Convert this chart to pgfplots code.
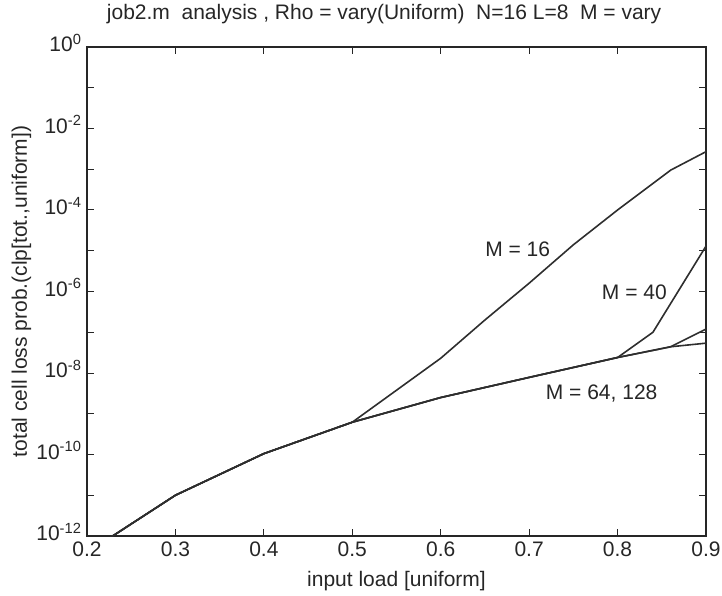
\documentclass[border=0pt]{standalone}
\usepackage{pgfplots}
\pgfplotsset{compat=1.18}
\usepackage{fontspec}
\setmainfont{Liberation Sans}
\definecolor{ln}{HTML}{2E2E2E}
\definecolor{tx}{HTML}{262626}
\begin{document}
\begin{tikzpicture}
\begin{axis}[
  at={(0pt,0pt)}, anchor=south west,
  scale only axis, width=619pt, height=489pt,
  xmin=0.2, xmax=0.9, ymode=log, ymin=1e-12, ymax=1,
  xtick={0.2,0.3,0.4,0.5,0.6,0.7,0.8,0.9},
  xticklabels={0.2,0.3,0.4,0.5,0.6,0.7,0.8,0.9},
  ytick={1e-12,1e-10,1e-8,1e-6,1e-4,1e-2,1},
  yticklabels={10\textsuperscript{-12},10\textsuperscript{-10},10\textsuperscript{-8},10\textsuperscript{-6},10\textsuperscript{-4},10\textsuperscript{-2},10\textsuperscript{0}},
  minor ytick={1e-11,1e-9,1e-7,1e-5,1e-3,1e-1},
  tick align=inside, major tick length=7pt, minor tick length=7pt,
  tick style={line width=1pt, black!85},
  axis line style={line width=1.3pt, black!85},
  ticklabel style={font=\fontsize{21}{24}\selectfont, text=tx},
  xticklabel style={yshift=-2pt},
  yticklabel style={xshift=-2pt, yshift=4pt},
  /pgf/number format/assume math mode=true,
  xlabel={input load [uniform]},
  ylabel={total cell loss prob.(clp[tot.,uniform])},
  xlabel style={at={(axis description cs:0.5,-0.092)}, anchor=center},
  ylabel style={at={(axis description cs:-0.106,0.5)}, anchor=center},
  label style={font=\fontsize{21}{24}\selectfont, text=tx},
  title={job2.m\ \ analysis , Rho = vary(Uniform)\ \ N=16 L=8\ \ M = vary},
  title style={at={(axis description cs:0.48,1.056)}, anchor=center, font=\fontsize{21}{24}\selectfont, text=tx},
  clip=true,
]
\addplot[ln, line width=1.6pt] coordinates {
 (0.2,3.9e-13) (0.3,1e-11) (0.4,1.05e-10) (0.5,6.2e-10) (0.6,2.5e-9)
 (0.7,7.8e-9) (0.8,2.4e-8) (0.86,4.4e-8) (0.9,5.4e-8)};
\addplot[ln, line width=1.6pt] coordinates {
 (0.2,3.9e-13) (0.3,1e-11) (0.4,1.05e-10) (0.5,6.2e-10) (0.6,2.5e-9)
 (0.7,7.8e-9) (0.8,2.4e-8) (0.86,4.4e-8) (0.9,1.2e-7)};
\addplot[ln, line width=1.6pt] coordinates {
 (0.2,3.9e-13) (0.3,1e-11) (0.4,1.05e-10) (0.5,6.2e-10) (0.6,2.5e-9)
 (0.7,7.8e-9) (0.8,2.4e-8) (0.84,1.0e-7) (0.9,1.3e-5)};
\addplot[ln, line width=1.6pt] coordinates {
 (0.2,3.9e-13) (0.3,1e-11) (0.4,1.05e-10) (0.5,6.2e-10) (0.6,2.3e-8)
 (0.65,2e-7) (0.7,1.6e-6) (0.75,1.4e-5) (0.8,1.0e-4) (0.86,9.5e-4) (0.9,2.7e-3)};
\node[font=\fontsize{21}{24}\selectfont, text=tx] at (axis cs:0.687,1.1e-5) {M = 16};
\node[font=\fontsize{21}{24}\selectfont, text=tx] at (axis cs:0.819,9.8e-7) {M = 40};
\node[font=\fontsize{21}{24}\selectfont, text=tx] at (axis cs:0.782,3.2e-9) {M = 64, 128};
\end{axis}
\pgfresetboundingbox
\path (-87pt,-60pt) rectangle (635pt,536pt);
\end{tikzpicture}
\end{document}
